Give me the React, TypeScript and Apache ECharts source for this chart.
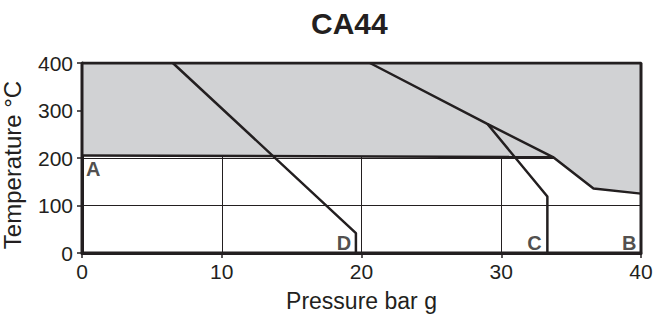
import React, { useEffect, useRef } from "react";
import * as echarts from "echarts";

const xTicks = [0, 10, 20, 30, 40];
const yTicks = [0, 100, 200, 300, 400];
const shadedRegion: [number, number][] = [
  [0, 400], [40, 400], [40, 125], [36.6, 136], [33.7, 202], [0, 205.5],
];
const lineA: [number, number][] = [[0, 205.5], [33.7, 202]];
const lineB: [number, number][] = [[20.6, 400], [29, 272], [33.7, 202], [36.6, 136], [40, 125]];
const lineC: [number, number][] = [[29, 272], [33.3, 119], [33.3, 0]];
const lineD: [number, number][] = [[6.5, 400], [19.6, 42], [19.6, 0]];
const frame: [number, number][] = [[0, 0], [0, 400], [40, 400], [40, 0], [0, 0]];
const curveLabels = [
  { name: "A", value: [0.8, 177] },
  { name: "D", value: [18.75, 22] },
  { name: "C", value: [32.37, 22] },
  { name: "B", value: [39.15, 22] },
];

const INK = "#231f20";
const FONT = "Liberation Sans, Arial, Helvetica, sans-serif";

export default function App() {
  const ref = useRef<HTMLDivElement>(null);
  useEffect(() => {
    if (!ref.current) return;
    const chart = echarts.init(ref.current, undefined, { renderer: "svg" });
    const lineSeries = (data: [number, number][], width = 2.5) => ({
      type: "line",
      data,
      showSymbol: false,
      symbol: "none",
      lineStyle: { color: INK, width },
      z: 5,
      silent: true,
    });
    chart.setOption({
      animation: false,
      textStyle: { fontFamily: FONT },
      title: {
        text: "CA44",
        left: 306,
        top: 3,
        textStyle: { fontSize: 30, fontWeight: "bold", color: INK, fontFamily: FONT },
      },
      grid: {
        left: 82,
        right: 13,
        top: 63,
        bottom: 62,
        containLabel: false,
        outerBoundsMode: "none",
      },
      xAxis: {
        type: "value",
        min: xTicks[0],
        max: xTicks[xTicks.length - 1],
        interval: 10,
        name: "Pressure bar g",
        nameLocation: "middle",
        nameGap: 36,
        nameTextStyle: { fontSize: 23, color: INK, fontFamily: FONT },
        axisLine: { show: true, lineStyle: { color: INK, width: 3 } },
        axisTick: { show: true, length: 5, lineStyle: { color: INK, width: 1.5 } },
        axisLabel: { fontSize: 21, color: INK, margin: 8, fontFamily: FONT },
        splitLine: { show: true, lineStyle: { color: INK, width: 1 } },
      },
      yAxis: {
        type: "value",
        min: yTicks[0],
        max: yTicks[yTicks.length - 1],
        interval: 100,
        name: "Temperature °C",
        nameLocation: "middle",
        nameGap: 58,
        nameTextStyle: { fontSize: 24, color: INK, fontFamily: FONT, padding: [0, 14, 0, 0] },
        axisLine: { show: true, lineStyle: { color: INK, width: 3 } },
        axisTick: { show: true, length: 5, lineStyle: { color: INK, width: 1.5 } },
        axisLabel: { fontSize: 21, color: INK, margin: 9, fontFamily: FONT },
        splitLine: { show: true, lineStyle: { color: INK, width: 1 } },
      },
      series: [
        {
          type: "custom",
          data: [[0, 0]],
          z: 3,
          silent: true,
          renderItem: (params: any, api: any) => {
            const pts = shadedRegion.map((p) => api.coord(p));
            return { type: "polygon", shape: { points: pts }, style: { fill: "#d1d2d4" } };
          },
        },
        lineSeries(lineA),
        lineSeries(lineB),
        lineSeries(lineC),
        lineSeries(lineD),
        lineSeries(frame, 3),
        {
          type: "scatter",
          data: curveLabels,
          symbolSize: 0,
          z: 6,
          silent: true,
          label: {
            show: true,
            position: "inside",
            formatter: (p: any) => p.name,
            fontSize: 20,
            fontWeight: "bold",
            color: INK,
            fontFamily: FONT,
          },
        },
      ],
    });
    return () => chart.dispose();
  }, []);
  return (
    <div
      ref={ref}
      style={{ position: "absolute", left: 0, top: 0, width: 654, height: 315 }}
    />
  );
}
